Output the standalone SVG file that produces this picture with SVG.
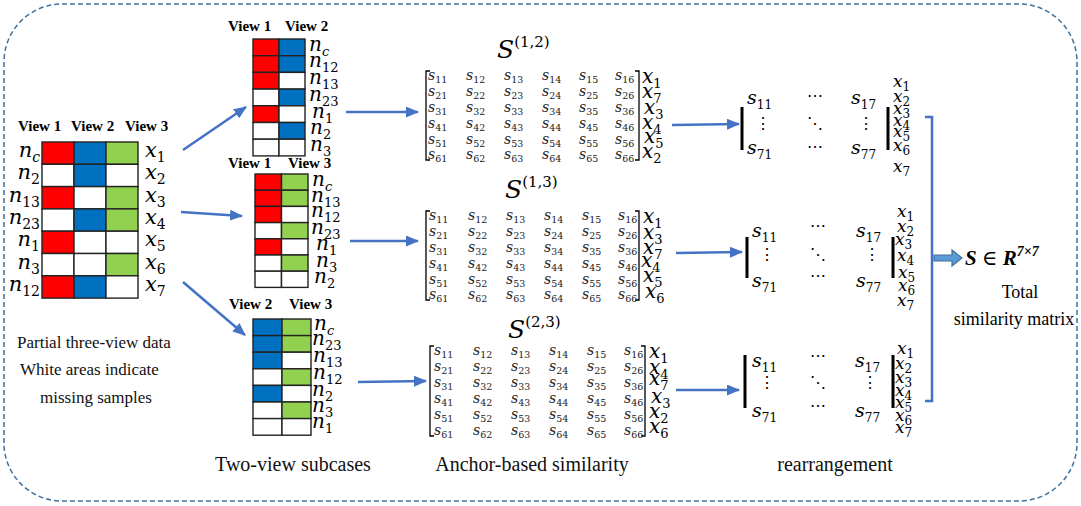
<svg xmlns="http://www.w3.org/2000/svg" width="1081" height="506" viewBox="0 0 1081 506">
<defs>
<marker id="ah" markerWidth="13" markerHeight="11" refX="12" refY="5.5" orient="auto" markerUnits="userSpaceOnUse"><path d="M0,0 L13,5.5 L0,11 Z" fill="#4472c4"/></marker>
<style>
.c{stroke:#222;stroke-width:1.4}
.r{fill:#ff0000}.b{fill:#0070c0}.g{fill:#92d050}.w{fill:#fff}
.hdr{font-family:"Liberation Serif","DejaVu Serif",serif;font-weight:bold;font-size:15px;fill:#000}
.lab{font-family:"DejaVu Serif",serif;font-style:italic;font-size:20px;fill:#000}
.lab2{font-family:"DejaVu Serif",serif;font-style:italic;font-size:21px;fill:#000}
.sb{font-size:13px}
.sb2{font-size:14px}
.up{font-style:normal}
.m{font-family:"DejaVu Serif",serif;font-style:italic;font-size:14px;fill:#222}
.ms{font-size:9.5px;font-style:normal}
.rs{font-family:"DejaVu Serif",serif;font-style:italic;font-size:19px;fill:#000}
.rx{font-family:"DejaVu Serif",serif;font-style:italic;font-size:17px;fill:#000}
.rsb{font-size:12px;font-style:normal}
.dots{font-family:"DejaVu Serif",serif;font-size:16px;fill:#000;text-anchor:middle}
.cap{font-family:"Liberation Serif","DejaVu Serif",serif;font-size:17px;fill:#111}
.cap2{font-family:"Liberation Serif","DejaVu Serif",serif;font-size:20px;fill:#111;text-anchor:middle}
.conn{stroke:#4472c4;stroke-width:2.5;fill:none}
.brk{stroke:#000;stroke-width:1.3;fill:none}
.bar{stroke:#000;stroke-width:3;fill:none}
.ttl{font-family:"DejaVu Serif",serif;font-style:italic;font-size:25px;fill:#000}
.tsup{font-size:15px;font-style:normal}
</style>
</defs>
<rect width="1081" height="506" fill="#fff"/>
<rect id="frame" x="4" y="4" width="1073" height="497" rx="58" fill="none" stroke="#41719c" stroke-width="1.5" stroke-dasharray="5 3"/>

<g id="three-view">
<text class="hdr" x="18" y="131">View 1</text><text class="hdr" x="71" y="131">View 2</text><text class="hdr" x="125" y="131">View 3</text>
<rect class="c r" x="42" y="142" width="32" height="22.3"/><rect class="c b" x="74" y="142" width="32" height="22.3"/><rect class="c g" x="106" y="142" width="32" height="22.3"/>
<rect class="c w" x="42" y="164.3" width="32" height="22.3"/><rect class="c b" x="74" y="164.3" width="32" height="22.3"/><rect class="c w" x="106" y="164.3" width="32" height="22.3"/>
<rect class="c r" x="42" y="186.6" width="32" height="22.3"/><rect class="c w" x="74" y="186.6" width="32" height="22.3"/><rect class="c g" x="106" y="186.6" width="32" height="22.3"/>
<rect class="c w" x="42" y="208.9" width="32" height="22.3"/><rect class="c b" x="74" y="208.9" width="32" height="22.3"/><rect class="c g" x="106" y="208.9" width="32" height="22.3"/>
<rect class="c r" x="42" y="231.2" width="32" height="22.3"/><rect class="c w" x="74" y="231.2" width="32" height="22.3"/><rect class="c w" x="106" y="231.2" width="32" height="22.3"/>
<rect class="c w" x="42" y="253.5" width="32" height="22.3"/><rect class="c w" x="74" y="253.5" width="32" height="22.3"/><rect class="c g" x="106" y="253.5" width="32" height="22.3"/>
<rect class="c r" x="42" y="275.8" width="32" height="22.3"/><rect class="c b" x="74" y="275.8" width="32" height="22.3"/><rect class="c w" x="106" y="275.8" width="32" height="22.3"/>
<g text-anchor="end">
<text class="lab2" x="40" y="157">n<tspan class="sb2" dy="5">c</tspan></text>
<text class="lab2" x="40" y="179">n<tspan class="sb2 up" dy="5">2</tspan></text>
<text class="lab2" x="40" y="202">n<tspan class="sb2 up" dy="5">13</tspan></text>
<text class="lab2" x="40" y="224">n<tspan class="sb2 up" dy="5">23</tspan></text>
<text class="lab2" x="40" y="246">n<tspan class="sb2 up" dy="5">1</tspan></text>
<text class="lab2" x="40" y="269">n<tspan class="sb2 up" dy="5">3</tspan></text>
<text class="lab2" x="40" y="291">n<tspan class="sb2 up" dy="5">12</tspan></text>
</g>
<text class="lab2" x="145" y="157">x<tspan class="sb2 up" dy="5">1</tspan></text>
<text class="lab2" x="145" y="179">x<tspan class="sb2 up" dy="5">2</tspan></text>
<text class="lab2" x="145" y="202">x<tspan class="sb2 up" dy="5">3</tspan></text>
<text class="lab2" x="145" y="224">x<tspan class="sb2 up" dy="5">4</tspan></text>
<text class="lab2" x="145" y="246">x<tspan class="sb2 up" dy="5">5</tspan></text>
<text class="lab2" x="145" y="269">x<tspan class="sb2 up" dy="5">6</tspan></text>
<text class="lab2" x="145" y="291">x<tspan class="sb2 up" dy="5">7</tspan></text>
<text class="cap" x="17" y="348">Partial three-view data</text>
<text class="cap" x="20" y="375">White areas indicate</text>
<text class="cap" x="40" y="403">missing samples</text>
</g>

<g id="sub12">
<text class="hdr" x="228" y="31">View 1</text><text class="hdr" x="285" y="31">View 2</text>
<rect class="c r" x="253" y="39" width="26" height="16.7"/><rect class="c b" x="279" y="39" width="26" height="16.7"/>
<rect class="c r" x="253" y="55.7" width="26" height="16.7"/><rect class="c b" x="279" y="55.7" width="26" height="16.7"/>
<rect class="c r" x="253" y="72.4" width="26" height="16.7"/><rect class="c w" x="279" y="72.4" width="26" height="16.7"/>
<rect class="c w" x="253" y="89.1" width="26" height="16.7"/><rect class="c b" x="279" y="89.1" width="26" height="16.7"/>
<rect class="c r" x="253" y="105.8" width="26" height="16.7"/><rect class="c w" x="279" y="105.8" width="26" height="16.7"/>
<rect class="c w" x="253" y="122.5" width="26" height="16.7"/><rect class="c b" x="279" y="122.5" width="26" height="16.7"/>
<rect class="c w" x="253" y="139.2" width="26" height="16.7"/><rect class="c w" x="279" y="139.2" width="26" height="16.7"/>
<text class="lab" x="309" y="51">n<tspan class="sb" dy="5">c</tspan></text>
<text class="lab" x="309" y="67">n<tspan class="sb up" dy="5">12</tspan></text>
<text class="lab" x="309" y="84">n<tspan class="sb up" dy="5">13</tspan></text>
<text class="lab" x="309" y="101">n<tspan class="sb up" dy="5">23</tspan></text>
<text class="lab" x="312" y="118">n<tspan class="sb up" dy="5">1</tspan></text>
<text class="lab" x="310" y="134">n<tspan class="sb up" dy="5">2</tspan></text>
<text class="lab" x="310" y="151">n<tspan class="sb up" dy="5">3</tspan></text>
</g>

<g id="sub13">
<text class="hdr" x="228" y="168">View 1</text><text class="hdr" x="288" y="168">View 3</text>
<rect class="c r" x="255" y="174" width="26.5" height="16.2"/><rect class="c g" x="281.5" y="174" width="26.5" height="16.2"/>
<rect class="c r" x="255" y="190.2" width="26.5" height="16.2"/><rect class="c g" x="281.5" y="190.2" width="26.5" height="16.2"/>
<rect class="c r" x="255" y="206.4" width="26.5" height="16.2"/><rect class="c w" x="281.5" y="206.4" width="26.5" height="16.2"/>
<rect class="c w" x="255" y="222.6" width="26.5" height="16.2"/><rect class="c g" x="281.5" y="222.6" width="26.5" height="16.2"/>
<rect class="c r" x="255" y="238.8" width="26.5" height="16.2"/><rect class="c w" x="281.5" y="238.8" width="26.5" height="16.2"/>
<rect class="c w" x="255" y="255" width="26.5" height="16.2"/><rect class="c g" x="281.5" y="255" width="26.5" height="16.2"/>
<rect class="c w" x="255" y="271.2" width="26.5" height="16.2"/><rect class="c w" x="281.5" y="271.2" width="26.5" height="16.2"/>
<text class="lab" x="312" y="186">n<tspan class="sb" dy="5">c</tspan></text>
<text class="lab" x="311" y="202">n<tspan class="sb up" dy="5">13</tspan></text>
<text class="lab" x="311" y="217">n<tspan class="sb up" dy="5">12</tspan></text>
<text class="lab" x="311" y="234">n<tspan class="sb up" dy="5">23</tspan></text>
<text class="lab" x="316" y="250">n<tspan class="sb up" dy="5">1</tspan></text>
<text class="lab" x="316" y="267">n<tspan class="sb up" dy="5">3</tspan></text>
<text class="lab" x="314" y="283">n<tspan class="sb up" dy="5">2</tspan></text>
</g>

<g id="sub23">
<text class="hdr" x="229" y="309">View 2</text><text class="hdr" x="289" y="309">View 3</text>
<rect class="c b" x="253" y="319" width="29" height="16.6"/><rect class="c g" x="282" y="319" width="29" height="16.6"/>
<rect class="c b" x="253" y="335.6" width="29" height="16.6"/><rect class="c g" x="282" y="335.6" width="29" height="16.6"/>
<rect class="c b" x="253" y="352.2" width="29" height="16.6"/><rect class="c w" x="282" y="352.2" width="29" height="16.6"/>
<rect class="c w" x="253" y="368.8" width="29" height="16.6"/><rect class="c g" x="282" y="368.8" width="29" height="16.6"/>
<rect class="c b" x="253" y="385.4" width="29" height="16.6"/><rect class="c w" x="282" y="385.4" width="29" height="16.6"/>
<rect class="c w" x="253" y="402" width="29" height="16.6"/><rect class="c g" x="282" y="402" width="29" height="16.6"/>
<rect class="c w" x="253" y="418.6" width="29" height="16.6"/><rect class="c w" x="282" y="418.6" width="29" height="16.6"/>
<text class="lab" x="314" y="330">n<tspan class="sb" dy="5">c</tspan></text>
<text class="lab" x="312" y="345">n<tspan class="sb up" dy="5">23</tspan></text>
<text class="lab" x="313" y="362">n<tspan class="sb up" dy="5">13</tspan></text>
<text class="lab" x="313" y="379">n<tspan class="sb up" dy="5">12</tspan></text>
<text class="lab" x="312" y="396">n<tspan class="sb up" dy="5">2</tspan></text>
<text class="lab" x="312" y="412">n<tspan class="sb up" dy="5">3</tspan></text>
<text class="lab" x="312" y="428">n<tspan class="sb up" dy="5">1</tspan></text>
<text class="cap2" x="293" y="471">Two-view subcases</text>
</g>

<g id="mat12">
<text class="ttl" x="497" y="58">S<tspan class="tsup" dy="-11">(1,2)</tspan></text>
<path class="brk" d="M430,71 H426 V160 H430 M635,71 H639 V160 H635"/>
<text class="m" x="428" y="80">s<tspan class="ms" dy="3">11</tspan></text><text class="m" x="466" y="80">s<tspan class="ms" dy="3">12</tspan></text><text class="m" x="504" y="80">s<tspan class="ms" dy="3">13</tspan></text><text class="m" x="542" y="80">s<tspan class="ms" dy="3">14</tspan></text><text class="m" x="579" y="80">s<tspan class="ms" dy="3">15</tspan></text><text class="m" x="615" y="80">s<tspan class="ms" dy="3">16</tspan></text>
<text class="m" x="428" y="96">s<tspan class="ms" dy="3">21</tspan></text><text class="m" x="466" y="96">s<tspan class="ms" dy="3">22</tspan></text><text class="m" x="504" y="96">s<tspan class="ms" dy="3">23</tspan></text><text class="m" x="542" y="96">s<tspan class="ms" dy="3">24</tspan></text><text class="m" x="579" y="96">s<tspan class="ms" dy="3">25</tspan></text><text class="m" x="615" y="96">s<tspan class="ms" dy="3">26</tspan></text>
<text class="m" x="428" y="112">s<tspan class="ms" dy="3">31</tspan></text><text class="m" x="466" y="112">s<tspan class="ms" dy="3">32</tspan></text><text class="m" x="504" y="112">s<tspan class="ms" dy="3">33</tspan></text><text class="m" x="542" y="112">s<tspan class="ms" dy="3">34</tspan></text><text class="m" x="579" y="112">s<tspan class="ms" dy="3">35</tspan></text><text class="m" x="615" y="112">s<tspan class="ms" dy="3">36</tspan></text>
<text class="m" x="428" y="128">s<tspan class="ms" dy="3">41</tspan></text><text class="m" x="466" y="128">s<tspan class="ms" dy="3">42</tspan></text><text class="m" x="504" y="128">s<tspan class="ms" dy="3">43</tspan></text><text class="m" x="542" y="128">s<tspan class="ms" dy="3">44</tspan></text><text class="m" x="579" y="128">s<tspan class="ms" dy="3">45</tspan></text><text class="m" x="615" y="128">s<tspan class="ms" dy="3">46</tspan></text>
<text class="m" x="428" y="144">s<tspan class="ms" dy="3">51</tspan></text><text class="m" x="466" y="144">s<tspan class="ms" dy="3">52</tspan></text><text class="m" x="504" y="144">s<tspan class="ms" dy="3">53</tspan></text><text class="m" x="542" y="144">s<tspan class="ms" dy="3">54</tspan></text><text class="m" x="579" y="144">s<tspan class="ms" dy="3">55</tspan></text><text class="m" x="615" y="144">s<tspan class="ms" dy="3">56</tspan></text>
<text class="m" x="428" y="159">s<tspan class="ms" dy="3">61</tspan></text><text class="m" x="466" y="159">s<tspan class="ms" dy="3">62</tspan></text><text class="m" x="504" y="159">s<tspan class="ms" dy="3">63</tspan></text><text class="m" x="542" y="159">s<tspan class="ms" dy="3">64</tspan></text><text class="m" x="579" y="159">s<tspan class="ms" dy="3">65</tspan></text><text class="m" x="615" y="159">s<tspan class="ms" dy="3">66</tspan></text>
<text class="lab" x="642" y="83">x<tspan class="sb up" dy="5">1</tspan></text>
<text class="lab" x="642" y="98">x<tspan class="sb up" dy="5">7</tspan></text>
<text class="lab" x="644" y="114">x<tspan class="sb up" dy="5">3</tspan></text>
<text class="lab" x="642" y="129">x<tspan class="sb up" dy="5">4</tspan></text>
<text class="lab" x="644" y="143">x<tspan class="sb up" dy="5">5</tspan></text>
<text class="lab" x="642" y="158">x<tspan class="sb up" dy="5">2</tspan></text>
</g>

<g id="mat13">
<text class="ttl" x="505" y="198">S<tspan class="tsup" dy="-11">(1,3)</tspan></text>
<path class="brk" d="M430,211 H426 V300 H430 M635,211 H639 V300 H635"/>
<text class="m" x="429" y="220">s<tspan class="ms" dy="3">11</tspan></text><text class="m" x="468" y="220">s<tspan class="ms" dy="3">12</tspan></text><text class="m" x="506" y="220">s<tspan class="ms" dy="3">13</tspan></text><text class="m" x="544" y="220">s<tspan class="ms" dy="3">14</tspan></text><text class="m" x="582" y="220">s<tspan class="ms" dy="3">15</tspan></text><text class="m" x="618" y="220">s<tspan class="ms" dy="3">16</tspan></text>
<text class="m" x="429" y="236">s<tspan class="ms" dy="3">21</tspan></text><text class="m" x="468" y="236">s<tspan class="ms" dy="3">22</tspan></text><text class="m" x="506" y="236">s<tspan class="ms" dy="3">23</tspan></text><text class="m" x="544" y="236">s<tspan class="ms" dy="3">24</tspan></text><text class="m" x="582" y="236">s<tspan class="ms" dy="3">25</tspan></text><text class="m" x="618" y="236">s<tspan class="ms" dy="3">26</tspan></text>
<text class="m" x="429" y="252">s<tspan class="ms" dy="3">31</tspan></text><text class="m" x="468" y="252">s<tspan class="ms" dy="3">32</tspan></text><text class="m" x="506" y="252">s<tspan class="ms" dy="3">33</tspan></text><text class="m" x="544" y="252">s<tspan class="ms" dy="3">34</tspan></text><text class="m" x="582" y="252">s<tspan class="ms" dy="3">35</tspan></text><text class="m" x="618" y="252">s<tspan class="ms" dy="3">36</tspan></text>
<text class="m" x="429" y="268">s<tspan class="ms" dy="3">41</tspan></text><text class="m" x="468" y="268">s<tspan class="ms" dy="3">42</tspan></text><text class="m" x="506" y="268">s<tspan class="ms" dy="3">43</tspan></text><text class="m" x="544" y="268">s<tspan class="ms" dy="3">44</tspan></text><text class="m" x="582" y="268">s<tspan class="ms" dy="3">45</tspan></text><text class="m" x="618" y="268">s<tspan class="ms" dy="3">46</tspan></text>
<text class="m" x="429" y="284">s<tspan class="ms" dy="3">51</tspan></text><text class="m" x="468" y="284">s<tspan class="ms" dy="3">52</tspan></text><text class="m" x="506" y="284">s<tspan class="ms" dy="3">53</tspan></text><text class="m" x="544" y="284">s<tspan class="ms" dy="3">54</tspan></text><text class="m" x="582" y="284">s<tspan class="ms" dy="3">55</tspan></text><text class="m" x="618" y="284">s<tspan class="ms" dy="3">56</tspan></text>
<text class="m" x="429" y="299">s<tspan class="ms" dy="3">61</tspan></text><text class="m" x="468" y="299">s<tspan class="ms" dy="3">62</tspan></text><text class="m" x="506" y="299">s<tspan class="ms" dy="3">63</tspan></text><text class="m" x="544" y="299">s<tspan class="ms" dy="3">64</tspan></text><text class="m" x="582" y="299">s<tspan class="ms" dy="3">65</tspan></text><text class="m" x="618" y="299">s<tspan class="ms" dy="3">66</tspan></text>
<text class="lab" x="643" y="223">x<tspan class="sb up" dy="5">1</tspan></text>
<text class="lab" x="643" y="239">x<tspan class="sb up" dy="5">3</tspan></text>
<text class="lab" x="643" y="254">x<tspan class="sb up" dy="5">7</tspan></text>
<text class="lab" x="641" y="267">x<tspan class="sb up" dy="5">4</tspan></text>
<text class="lab" x="643" y="282">x<tspan class="sb up" dy="5">5</tspan></text>
<text class="lab" x="645" y="298">x<tspan class="sb up" dy="5">6</tspan></text>
</g>

<g id="mat23">
<text class="ttl" x="508" y="338">S<tspan class="tsup" dy="-11">(2,3)</tspan></text>
<path class="brk" d="M434,346 H430 V436 H434 M641,346 H645 V436 H641"/>
<text class="m" x="434" y="355">s<tspan class="ms" dy="3">11</tspan></text><text class="m" x="473" y="355">s<tspan class="ms" dy="3">12</tspan></text><text class="m" x="511" y="355">s<tspan class="ms" dy="3">13</tspan></text><text class="m" x="549" y="355">s<tspan class="ms" dy="3">14</tspan></text><text class="m" x="587" y="355">s<tspan class="ms" dy="3">15</tspan></text><text class="m" x="624" y="355">s<tspan class="ms" dy="3">16</tspan></text>
<text class="m" x="434" y="371">s<tspan class="ms" dy="3">21</tspan></text><text class="m" x="473" y="371">s<tspan class="ms" dy="3">22</tspan></text><text class="m" x="511" y="371">s<tspan class="ms" dy="3">23</tspan></text><text class="m" x="549" y="371">s<tspan class="ms" dy="3">24</tspan></text><text class="m" x="587" y="371">s<tspan class="ms" dy="3">25</tspan></text><text class="m" x="624" y="371">s<tspan class="ms" dy="3">26</tspan></text>
<text class="m" x="434" y="387">s<tspan class="ms" dy="3">31</tspan></text><text class="m" x="473" y="387">s<tspan class="ms" dy="3">32</tspan></text><text class="m" x="511" y="387">s<tspan class="ms" dy="3">33</tspan></text><text class="m" x="549" y="387">s<tspan class="ms" dy="3">34</tspan></text><text class="m" x="587" y="387">s<tspan class="ms" dy="3">35</tspan></text><text class="m" x="624" y="387">s<tspan class="ms" dy="3">36</tspan></text>
<text class="m" x="434" y="403">s<tspan class="ms" dy="3">41</tspan></text><text class="m" x="473" y="403">s<tspan class="ms" dy="3">42</tspan></text><text class="m" x="511" y="403">s<tspan class="ms" dy="3">43</tspan></text><text class="m" x="549" y="403">s<tspan class="ms" dy="3">44</tspan></text><text class="m" x="587" y="403">s<tspan class="ms" dy="3">45</tspan></text><text class="m" x="624" y="403">s<tspan class="ms" dy="3">46</tspan></text>
<text class="m" x="434" y="419">s<tspan class="ms" dy="3">51</tspan></text><text class="m" x="473" y="419">s<tspan class="ms" dy="3">52</tspan></text><text class="m" x="511" y="419">s<tspan class="ms" dy="3">53</tspan></text><text class="m" x="549" y="419">s<tspan class="ms" dy="3">54</tspan></text><text class="m" x="587" y="419">s<tspan class="ms" dy="3">55</tspan></text><text class="m" x="624" y="419">s<tspan class="ms" dy="3">56</tspan></text>
<text class="m" x="434" y="435">s<tspan class="ms" dy="3">61</tspan></text><text class="m" x="473" y="435">s<tspan class="ms" dy="3">62</tspan></text><text class="m" x="511" y="435">s<tspan class="ms" dy="3">63</tspan></text><text class="m" x="549" y="435">s<tspan class="ms" dy="3">64</tspan></text><text class="m" x="587" y="435">s<tspan class="ms" dy="3">65</tspan></text><text class="m" x="624" y="435">s<tspan class="ms" dy="3">66</tspan></text>
<text class="lab" x="649" y="358">x<tspan class="sb up" dy="5">1</tspan></text>
<text class="lab" x="649" y="374">x<tspan class="sb up" dy="5">4</tspan></text>
<text class="lab" x="649" y="385">x<tspan class="sb up" dy="5">7</tspan></text>
<text class="lab" x="651" y="403">x<tspan class="sb up" dy="5">3</tspan></text>
<text class="lab" x="649" y="418">x<tspan class="sb up" dy="5">2</tspan></text>
<text class="lab" x="649" y="433">x<tspan class="sb up" dy="5">6</tspan></text>
<text class="cap2" x="532" y="471">Anchor-based similarity</text>
</g>

<g id="rearr1">
<path class="bar" d="M742,107 V150 M888,107 V150"/>
<text class="rs" x="747" y="104">s<tspan class="rsb" dy="5">11</tspan></text>
<text class="rs" x="851" y="104">s<tspan class="rsb" dy="5">17</tspan></text>
<text class="rs" x="747" y="154">s<tspan class="rsb" dy="5">71</tspan></text>
<text class="rs" x="851" y="154">s<tspan class="rsb" dy="5">77</tspan></text>
<text class="dots" x="815" y="101">⋯</text><text class="dots" x="815" y="152">⋯</text>
<text class="dots" x="763" y="129">⋮</text><text class="dots" x="815" y="129">⋱</text><text class="dots" x="866" y="129">⋮</text>
<text class="rx" x="893" y="87">x<tspan class="rsb" dy="4">1</tspan></text>
<text class="rx" x="893" y="102">x<tspan class="rsb" dy="4">2</tspan></text>
<text class="rx" x="893" y="114">x<tspan class="rsb" dy="4">3</tspan></text>
<text class="rx" x="893" y="126">x<tspan class="rsb" dy="4">4</tspan></text>
<text class="rx" x="893" y="137">x<tspan class="rsb" dy="4">5</tspan></text>
<text class="rx" x="893" y="151">x<tspan class="rsb" dy="4">6</tspan></text>
<text class="rx" x="893" y="172">x<tspan class="rsb" dy="4">7</tspan></text>
</g>

<g id="rearr2">
<path class="bar" d="M747,237 V278 M893,237 V278"/>
<text class="rs" x="752" y="237">s<tspan class="rsb" dy="5">11</tspan></text>
<text class="rs" x="856" y="237">s<tspan class="rsb" dy="5">17</tspan></text>
<text class="rs" x="752" y="287">s<tspan class="rsb" dy="5">71</tspan></text>
<text class="rs" x="856" y="287">s<tspan class="rsb" dy="5">77</tspan></text>
<text class="dots" x="818" y="231">⋯</text><text class="dots" x="818" y="281">⋯</text>
<text class="dots" x="767" y="260">⋮</text><text class="dots" x="818" y="260">⋱</text><text class="dots" x="872" y="260">⋮</text>
<text class="rx" x="897" y="217">x<tspan class="rsb" dy="4">1</tspan></text>
<text class="rx" x="897" y="232">x<tspan class="rsb" dy="4">2</tspan></text>
<text class="rx" x="895" y="245">x<tspan class="rsb" dy="4">3</tspan></text>
<text class="rx" x="897" y="261">x<tspan class="rsb" dy="4">4</tspan></text>
<text class="rx" x="898" y="278">x<tspan class="rsb" dy="4">5</tspan></text>
<text class="rx" x="898" y="291">x<tspan class="rsb" dy="4">6</tspan></text>
<text class="rx" x="897" y="306">x<tspan class="rsb" dy="4">7</tspan></text>
</g>

<g id="rearr3">
<path class="bar" d="M745,355 V408 M893,355 V408"/>
<text class="rs" x="752" y="367">s<tspan class="rsb" dy="5">11</tspan></text>
<text class="rs" x="855" y="367">s<tspan class="rsb" dy="5">17</tspan></text>
<text class="rs" x="752" y="417">s<tspan class="rsb" dy="5">71</tspan></text>
<text class="rs" x="855" y="417">s<tspan class="rsb" dy="5">77</tspan></text>
<text class="dots" x="818" y="361">⋯</text><text class="dots" x="818" y="411">⋯</text>
<text class="dots" x="767" y="388">⋮</text><text class="dots" x="818" y="388">⋱</text><text class="dots" x="870" y="388">⋮</text>
<text class="rx" x="897" y="354">x<tspan class="rsb" dy="4">1</tspan></text>
<text class="rx" x="895" y="369">x<tspan class="rsb" dy="4">2</tspan></text>
<text class="rx" x="895" y="383">x<tspan class="rsb" dy="4">3</tspan></text>
<text class="rx" x="895" y="396">x<tspan class="rsb" dy="4">4</tspan></text>
<text class="rx" x="895" y="408">x<tspan class="rsb" dy="4">5</tspan></text>
<text class="rx" x="895" y="421">x<tspan class="rsb" dy="4">6</tspan></text>
<text class="rx" x="895" y="433">x<tspan class="rsb" dy="4">7</tspan></text>
<text class="cap2" x="835" y="471">rearrangement</text>
</g>

<g id="result">
<text x="965" y="265" font-family="'Liberation Serif','DejaVu Serif',serif" font-weight="bold" font-style="italic" font-size="21">S <tspan font-style="normal" font-weight="normal">∈</tspan> R<tspan font-size="14" dy="-9">7×7</tspan></text>
<text x="1020" y="298" font-family="'Liberation Serif','DejaVu Serif',serif" font-size="18" text-anchor="middle">Total</text>
<text x="1014" y="325" font-family="'Liberation Serif','DejaVu Serif',serif" font-size="18" text-anchor="middle">similarity matrix</text>
</g>

<g id="connectors">
<line class="conn" x1="183" y1="150" x2="246" y2="107" marker-end="url(#ah)"/>
<line class="conn" x1="181" y1="212" x2="242" y2="216" marker-end="url(#ah)"/>
<line class="conn" x1="183" y1="282" x2="245" y2="335" marker-end="url(#ah)"/>
<line class="conn" x1="346" y1="112" x2="418" y2="112" marker-end="url(#ah)"/>
<line class="conn" x1="350" y1="241" x2="418" y2="241" marker-end="url(#ah)"/>
<line class="conn" x1="358" y1="382" x2="426" y2="381" marker-end="url(#ah)"/>
<line class="conn" x1="672" y1="125" x2="739" y2="124" marker-end="url(#ah)"/>
<line class="conn" x1="676" y1="253" x2="742" y2="252" marker-end="url(#ah)"/>
<line class="conn" x1="676" y1="390" x2="739" y2="390" marker-end="url(#ah)"/>
<path class="conn" d="M925,117 H932 V401 H925"/>
<path d="M934,255 H952 V250 L962,258 L952,266 V261 H934 Z" fill="#5b9bd5" stroke="#41719c" stroke-width="1.2"/>
</g>
</svg>
